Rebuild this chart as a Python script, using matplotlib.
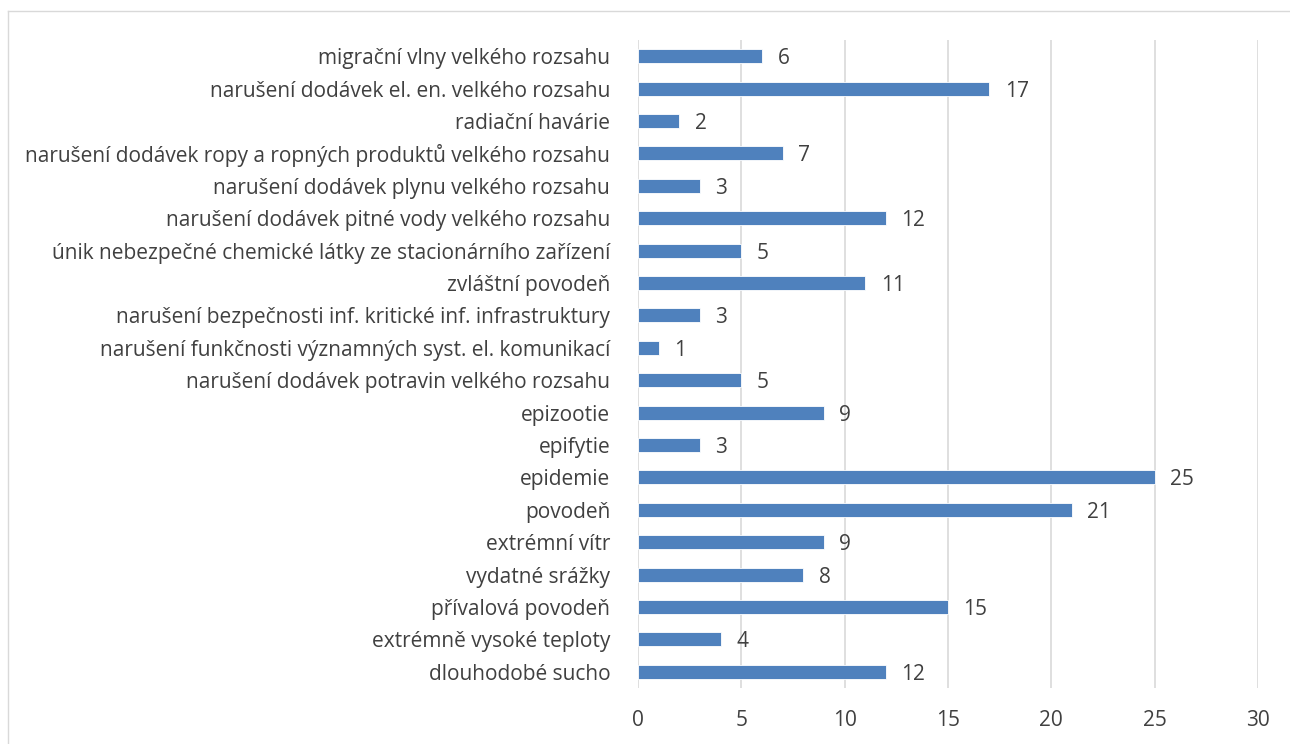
import matplotlib
matplotlib.use("Agg")
import matplotlib.pyplot as plt
from matplotlib.lines import Line2D

categories = [
    "migrační vlny velkého rozsahu",
    "narušení dodávek el. en. velkého rozsahu",
    "radiační havárie",
    "narušení dodávek ropy a ropných produktů velkého rozsahu",
    "narušení dodávek plynu velkého rozsahu",
    "narušení dodávek pitné vody velkého rozsahu",
    "únik nebezpečné chemické látky ze stacionárního zařízení",
    "zvláštní povodeň",
    "narušení bezpečnosti inf. kritické inf. infrastruktury",
    "narušení funkčnosti významných syst. el. komunikací",
    "narušení dodávek potravin velkého rozsahu",
    "epizootie",
    "epifytie",
    "epidemie",
    "povodeň",
    "extrémní vítr",
    "vydatné srážky",
    "přívalová povodeň",
    "extrémně vysoké teploty",
    "dlouhodobé sucho",
]
values = [6, 17, 2, 7, 3, 12, 5, 11, 3, 1, 5, 9, 3, 25, 21, 9, 8, 15, 4, 12]
xticks = [0, 5, 10, 15, 20, 25, 30]

plt.rcParams['font.family'] = ['Open Sans', 'DejaVu Sans']
text_color = '#404040'
fs = 15

W, H = 1290, 744
fig = plt.figure(figsize=(W / 100, H / 100), dpi=100)
ax = fig.add_axes([638 / W, 1 - 688 / H, (1258 - 638) / W, (688 - 40) / H])

ypos = list(range(len(categories)))
ax.barh(ypos, values, height=0.43, color='#4f81bd', edgecolor='white', linewidth=0.6, zorder=3)
for y, v in zip(ypos, values):
    ax.text(v + 0.75, y, str(v), va='center_baseline', ha='left', fontsize=fs, color=text_color)

ax.set_ylim(len(categories) - 0.5, -0.5)
ax.set_xlim(0, 30)
ax.set_yticks(ypos)
ax.set_yticklabels(categories, fontsize=fs, color=text_color, va='center_baseline')
ax.set_xticks(xticks)
ax.set_xticklabels([str(t) for t in xticks], fontsize=fs, color=text_color)
ax.tick_params(axis='y', length=0, pad=20)
ax.tick_params(axis='x', length=0, pad=16)
ax.grid(axis='x', color='#d9d9d9', linewidth=1.2, zorder=0)
for s in ax.spines.values():
    s.set_visible(False)

# outer chart border (top and left edges visible)
fig.add_artist(Line2D([8 / W, 1.0], [1 - 11 / H, 1 - 11 / H], color='#d9d9d9', linewidth=1.0))
fig.add_artist(Line2D([8 / W, 8 / W], [0.0, 1 - 11 / H], color='#d9d9d9', linewidth=1.0))

fig.savefig('out.png', dpi=100)
